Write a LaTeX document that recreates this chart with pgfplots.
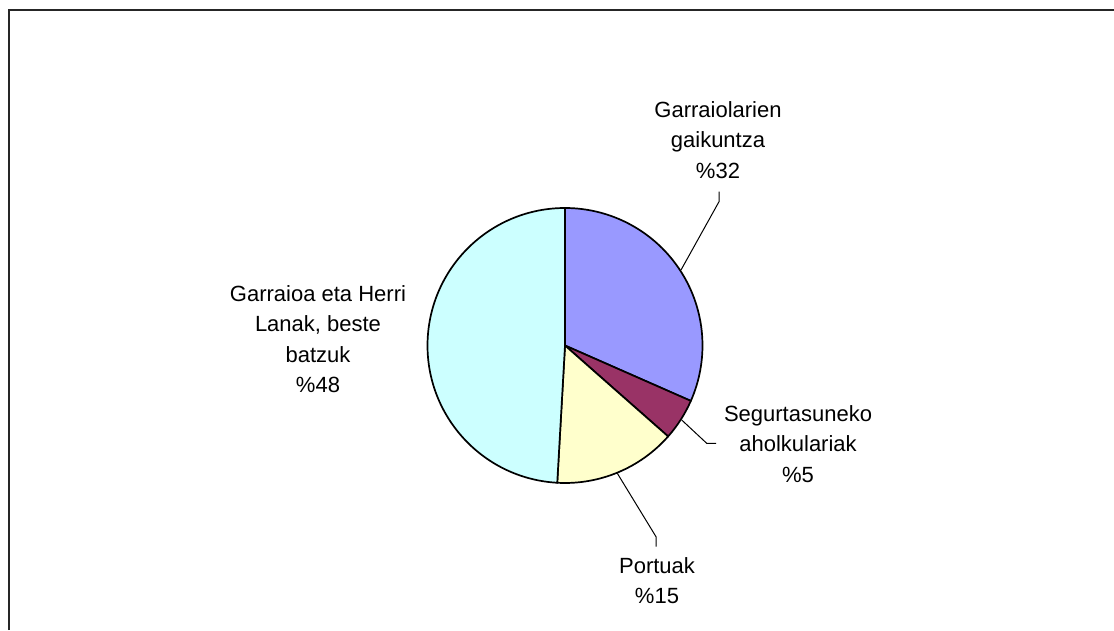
\documentclass[border=0pt]{standalone}
\usepackage{pgfplots}
\pgfplotsset{compat=1.18}
\usepackage{fontspec}
\setmainfont{Liberation Sans}
\definecolor{cA}{HTML}{9999FF}
\definecolor{cB}{HTML}{993366}
\definecolor{cC}{HTML}{FFFFCC}
\definecolor{cD}{HTML}{CCFFFF}
\begin{document}
\begin{tikzpicture}
% slice values (percent), clockwise from 12 o'clock
\def\vA{31.6}\def\vB{4.9}\def\vC{14.4}\def\vD{49.1}
\pgfmathsetmacro\aA{90}
\pgfmathsetmacro\aB{\aA-3.6*\vA}
\pgfmathsetmacro\aC{\aB-3.6*\vB}
\pgfmathsetmacro\aD{\aC-3.6*\vC}
\pgfmathsetmacro\aE{\aD-3.6*\vD}
\def\R{137.5pt}
\begin{axis}[
  scale only axis, width=1114pt, height=630pt,
  xmin=0, xmax=1114, ymin=0, ymax=630,
  hide axis, clip=false,
]
\draw[line width=2pt, black!85] (axis cs:8.5,0) -- (axis cs:8.5,619.5) -- (axis cs:1114,619.5);
\filldraw[fill=cA, draw=black, line width=1.7pt, line join=round] (axis cs:565,284.5) -- ++(\aA:\R) arc[start angle=\aA, end angle=\aB, radius=\R] -- cycle;
\filldraw[fill=cB, draw=black, line width=1.7pt, line join=round] (axis cs:565,284.5) -- ++(\aB:\R) arc[start angle=\aB, end angle=\aC, radius=\R] -- cycle;
\filldraw[fill=cC, draw=black, line width=1.7pt, line join=round] (axis cs:565,284.5) -- ++(\aC:\R) arc[start angle=\aC, end angle=\aD, radius=\R] -- cycle;
\filldraw[fill=cD, draw=black, line width=1.7pt, line join=round] (axis cs:565,284.5) -- ++(\aD:\R) arc[start angle=\aD, end angle=\aE, radius=\R] -- cycle;
% leader lines
\draw[black, line width=1pt] (axis cs:719,438.3) -- (axis cs:719,428.3) -- (axis cs:681,360);
\draw[black, line width=1pt] (axis cs:681.7,210) -- (axis cs:706.7,186.7) -- (axis cs:716,186.7);
\draw[black, line width=1pt] (axis cs:617.3,156.7) -- (axis cs:656,93.3) -- (axis cs:656,83.3);
% labels
\tikzset{lbl/.style={align=center, inner sep=0pt, font=\fontsize{22}{30.5}\selectfont}}
\node[lbl] at (axis cs:718,490) {Garraiolarien\\gaikuntza\\\%32};
\node[lbl] at (axis cs:798,186) {Segurtasuneko\\aholkulariak\\\%5};
\node[lbl] at (axis cs:657,49.5) {Portuak\\\%15};
\node[lbl] at (axis cs:318,291) {Garraioa eta Herri\\Lanak, beste\\batzuk\\\%48};
\end{axis}
\pgfresetboundingbox
\path (current axis.south west) rectangle (current axis.north east);
\end{tikzpicture}
\end{document}
